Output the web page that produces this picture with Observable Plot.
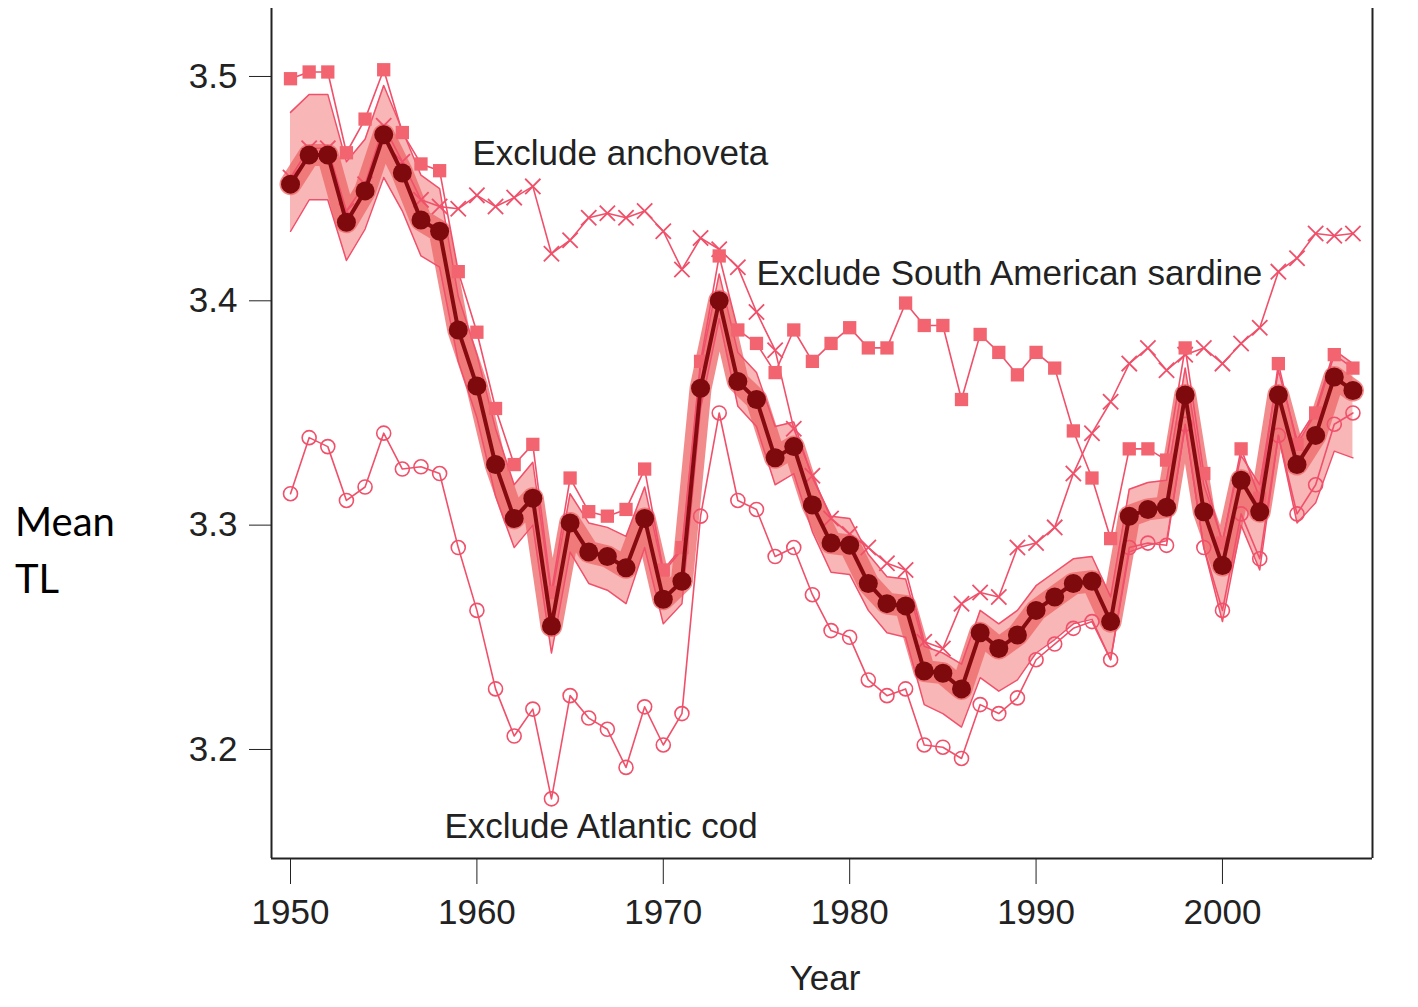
<!DOCTYPE html>
<html>
<head>
<meta charset="utf-8">
<script src="https://cdn.jsdelivr.net/npm/d3@7"></script>
<script src="https://cdn.jsdelivr.net/npm/@observablehq/plot@0.6"></script>
<style>
  html, body { margin: 0; padding: 0; background: #fff; }
  #wrap { position: relative; width: 1418px; height: 1007px; }
  #ylab { position: absolute; left: 15px; top: 493px; font-family: Lato, "Open Sans", sans-serif; font-size: 40px; line-height: 57px; color: #000; }
  #xlab { position: absolute; left: 725px; width: 200px; text-align: center; top: 958px; font-family: "Liberation Sans", Arial, sans-serif; font-size: 35px; color: #222; }
</style>
</head>
<body>
<div id="wrap">
  <div id="ylab">Mean<br>TL</div>
  <div id="xlab">Year</div>
</div>
<script>
const years = d3.range(1950, 2008);

const mainTL = [3.452,3.465,3.465,3.435,3.449,3.474,3.457,3.436,3.431,3.387,
  3.362,3.327,3.303,3.312,3.255,3.301,3.288,3.286,3.281,3.303,
  3.267,3.275,3.361,3.400,3.364,3.356,3.330,3.335,3.309,3.292,
  3.291,3.274,3.265,3.264,3.235,3.234,3.227,3.252,3.245,3.251,
  3.262,3.268,3.274,3.275,3.257,3.304,3.307,3.308,3.358,3.306,
  3.282,3.320,3.306,3.358,3.327,3.340,3.366,3.360];

const excludeSardine = [3.499,3.502,3.502,3.466,3.481,3.503,3.475,3.461,3.458,3.413,
  3.386,3.352,3.327,3.336,3.270,3.321,3.306,3.304,3.307,3.325,
  3.280,3.290,3.373,3.420,3.387,3.381,3.368,3.387,3.373,3.381,
  3.388,3.379,3.379,3.399,3.389,3.389,3.356,3.385,3.377,3.367,
  3.377,3.370,3.342,3.321,3.294,3.334,3.334,3.329,3.379,3.323,
  3.292,3.334,3.312,3.372,3.336,3.350,3.376,3.370];

const excludeAnchoveta = [3.455,3.468,3.468,3.440,3.452,3.478,3.462,3.445,3.442,3.441,
  3.447,3.442,3.446,3.451,3.421,3.427,3.437,3.439,3.437,3.440,
  3.431,3.414,3.428,3.423,3.415,3.395,3.378,3.343,3.322,3.303,
  3.296,3.290,3.283,3.280,3.248,3.245,3.265,3.270,3.268,3.290,
  3.292,3.299,3.323,3.341,3.355,3.372,3.379,3.369,3.376,3.379,
  3.372,3.381,3.388,3.413,3.419,3.430,3.429,3.430];

const excludeCod = [3.314,3.339,3.335,3.311,3.317,3.341,3.325,3.326,3.323,3.290,
  3.262,3.227,3.206,3.218,3.178,3.224,3.214,3.209,3.192,3.219,
  3.202,3.216,3.304,3.350,3.311,3.307,3.286,3.290,3.269,3.253,
  3.250,3.231,3.224,3.227,3.202,3.201,3.196,3.220,3.216,3.223,
  3.240,3.247,3.254,3.257,3.240,3.290,3.292,3.291,3.345,3.290,
  3.262,3.305,3.285,3.340,3.305,3.318,3.345,3.350];

const sensLow = [3.431,3.445,3.445,3.418,3.432,3.455,3.440,3.420,3.415,3.373,
  3.348,3.313,3.290,3.300,3.243,3.288,3.274,3.271,3.265,3.290,
  3.256,3.265,3.352,3.392,3.353,3.344,3.318,3.323,3.297,3.279,
  3.278,3.262,3.252,3.250,3.220,3.216,3.210,3.232,3.226,3.231,
  3.243,3.249,3.256,3.258,3.240,3.288,3.291,3.293,3.344,3.290,
  3.257,3.300,3.280,3.340,3.301,3.310,3.333,3.330];

const sensHigh = [3.484,3.492,3.492,3.462,3.472,3.496,3.476,3.456,3.450,3.402,
  3.376,3.343,3.318,3.328,3.268,3.314,3.301,3.299,3.295,3.317,
  3.279,3.289,3.371,3.412,3.377,3.368,3.344,3.346,3.321,3.304,
  3.303,3.287,3.277,3.276,3.246,3.243,3.238,3.262,3.256,3.262,
  3.273,3.279,3.285,3.286,3.268,3.316,3.319,3.320,3.370,3.318,
  3.293,3.331,3.318,3.369,3.338,3.351,3.378,3.372];

const labelText = ["Exclude anchoveta", "Exclude South American sardine", "Exclude Atlantic cod"];
const labelYear = [1959.76, 1975.0, 1958.26];
const labelTL = [3.4657, 3.4122, 3.1656];

const xTicks = [1950, 1960, 1970, 1980, 1990, 2000];
const yTicks = [3.2, 3.3, 3.4, 3.5];

const rows = years.map((year, i) => ({
  year, main: mainTL[i], sardine: excludeSardine[i], anch: excludeAnchoveta[i],
  cod: excludeCod[i], lo: sensLow[i], hi: sensHigh[i]
}));
const labels = labelText.map((t, i) => ({t, year: labelYear[i], tl: labelTL[i]}));

const xDomain = [1948.98, 2008.05];
const yDomain = [3.1514, 3.5303];
const light = "#f0506a";
const dark = "#860b10";
const axisCol = "#222";
const font = "Liberation Sans, Arial, Helvetica, sans-serif";

const chart = Plot.plot({
  width: 1418,
  height: 1007,
  marginLeft: 271,
  marginRight: 46,
  marginTop: 8,
  marginBottom: 149,
  style: {fontFamily: font, fontSize: "35px", color: axisCol, background: "white"},
  x: {domain: xDomain, ticks: xTicks, tickFormat: d => String(d), tickSize: 26, tickPadding: 15, label: null},
  y: {domain: yDomain, ticks: yTicks, tickFormat: d => d.toFixed(1), tickSize: 22, tickPadding: 12, label: null},
  marks: [
    Plot.areaY(rows, {x: "year", y1: "lo", y2: "hi", fill: "#f27a7a", fillOpacity: 0.55}),
    Plot.line(rows, {x: "year", y: "main", stroke: "#ee6666", strokeWidth: 22, strokeOpacity: 0.75}),
    Plot.line(rows, {x: "year", y: "lo", stroke: light, strokeWidth: 1.5}),
    Plot.line(rows, {x: "year", y: "hi", stroke: light, strokeWidth: 1.5}),
    Plot.line(rows, {x: "year", y: "cod", stroke: light, strokeWidth: 1.6}),
    Plot.dot(rows, {x: "year", y: "cod", symbol: "circle", r: 7, stroke: light, strokeWidth: 1.6, fill: "none"}),
    Plot.line(rows, {x: "year", y: "anch", stroke: light, strokeWidth: 1.6}),
    Plot.dot(rows, {x: "year", y: "anch", symbol: "times", r: 7, stroke: light, strokeWidth: 1.8}),
    Plot.line(rows, {x: "year", y: "sardine", stroke: light, strokeWidth: 1.6}),
    Plot.dot(rows, {x: "year", y: "sardine", symbol: "square", r: 7.5, fill: "#f26470", stroke: "none"}),
    Plot.line(rows, {x: "year", y: "main", stroke: dark, strokeWidth: 4}),
    Plot.dot(rows, {x: "year", y: "main", r: 9.5, fill: "#7e0a0e", stroke: "none"}),
    Plot.text(labels, {x: "year", y: "tl", text: "t", textAnchor: "start", fontSize: 35, fill: "#222", fontFamily: font}),
    Plot.ruleX([xDomain[0], xDomain[1]], {stroke: axisCol, strokeWidth: 2}),
    Plot.ruleY([yDomain[0]], {stroke: axisCol, strokeWidth: 2})
  ]
});
document.getElementById("wrap").prepend(chart);
</script>
</body>
</html>
